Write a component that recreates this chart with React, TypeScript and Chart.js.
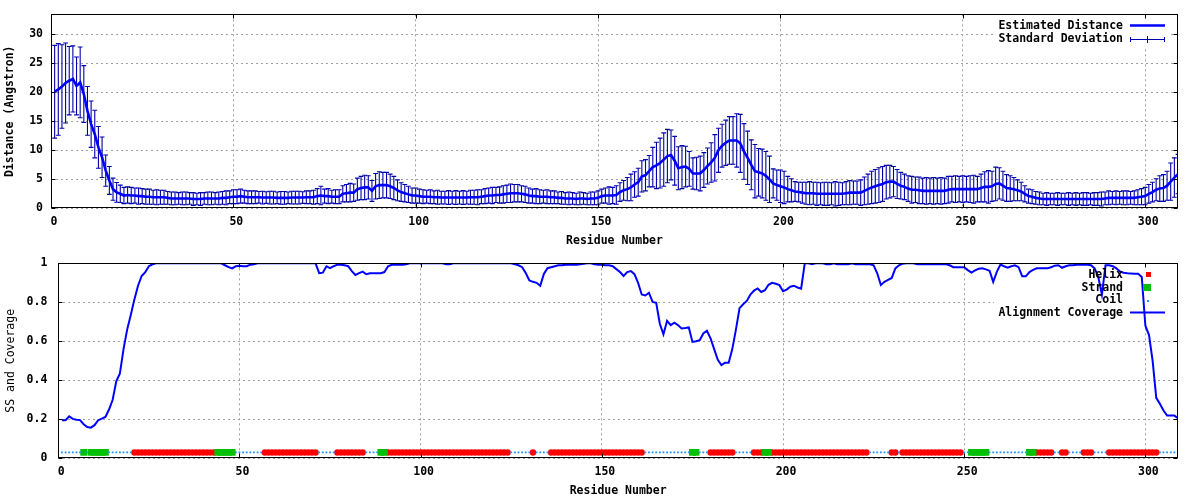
import { useEffect, useRef } from 'react';
import { Chart, registerables } from 'chart.js';

Chart.register(...registerables);

// ---------------- DATA ----------------
const RESIDUE_COUNT = 309;
const RESIDUES: number[] = Array.from({ length: RESIDUE_COUNT }, (_, i) => i + 1);

const X_TICKS = [0, 50, 100, 150, 200, 250, 300];
const TOP_Y_TICKS = [0, 5, 10, 15, 20, 25, 30];
const BOTTOM_Y_TICKS = [0, 0.2, 0.4, 0.6, 0.8, 1];
const BOTTOM_Y_LABELS = ['0', '0.2', '0.4', '0.6', '0.8', '1'];

const TOP_Y_MAX = 33.45;
const X_MAX = 309;

// Estimated distance (Angstrom) per residue
const MEAN: number[] = [
  20.1, 20.5, 21.0, 21.6, 22.0, 22.3, 21.1, 21.7, 19.7, 16.8,
  14.5, 12.8, 10.5, 8.8, 6.5, 4.8, 3.3, 2.75, 2.5, 2.2,
  2.3, 2.2, 2.2, 2.1, 2.1, 2.0, 2.0, 1.9, 1.9, 1.9,
  1.9, 1.8, 1.7, 1.7, 1.7, 1.7, 1.7, 1.7, 1.6, 1.6,
  1.6, 1.7, 1.7, 1.7, 1.7, 1.7, 1.8, 1.8, 1.9, 2.0,
  2.0, 2.1, 2.0, 1.9, 1.9, 1.9, 1.9, 1.85, 1.85, 1.85,
  1.85, 1.8, 1.8, 1.8, 1.8, 1.85, 1.85, 1.85, 1.85, 1.9,
  1.9, 1.9, 2.1, 2.2, 2.1, 2.1, 2.0, 2.0, 2.0, 2.5,
  2.6, 2.7, 2.7, 3.3, 3.5, 3.6, 3.6, 3.0, 3.8, 4.0,
  4.0, 4.0, 3.8, 3.5, 3.1, 2.8, 2.6, 2.4, 2.2, 2.2,
  2.1, 2.0, 2.0, 2.0, 1.9, 1.9, 1.85, 1.85, 1.85, 1.85,
  1.85, 1.85, 1.85, 1.85, 1.9, 1.9, 1.9, 2.0, 2.1, 2.2,
  2.2, 2.3, 2.3, 2.4, 2.5, 2.6, 2.6, 2.6, 2.5, 2.4,
  2.2, 2.1, 2.1, 2.0, 2.0, 2.0, 1.9, 1.9, 1.8, 1.8,
  1.7, 1.7, 1.7, 1.6, 1.7, 1.7, 1.6, 1.7, 1.7, 1.8,
  2.1, 2.2, 2.2, 2.2, 2.3, 2.8, 3.1, 3.3, 3.6, 4.1,
  4.5, 5.5, 5.7, 6.4, 7.1, 7.4, 7.8, 8.4, 9.0, 9.2,
  8.2, 6.9, 7.1, 7.2, 6.8, 6.0, 6.0, 6.0, 6.6, 7.3,
  7.9, 8.7, 10.0, 10.8, 11.3, 11.7, 11.7, 11.7, 11.2, 9.8,
  8.7, 7.5, 6.4, 6.2, 6.0, 5.6, 5.0, 4.3, 4.0, 3.8,
  3.6, 3.3, 3.1, 2.9, 2.8, 2.7, 2.6, 2.6, 2.6, 2.5,
  2.5, 2.5, 2.5, 2.5, 2.5, 2.5, 2.5, 2.6, 2.7, 2.7,
  2.7, 2.7, 3.0, 3.3, 3.6, 3.8, 4.0, 4.2, 4.5, 4.6,
  4.6, 4.2, 3.9, 3.7, 3.4, 3.2, 3.2, 3.1, 3.0, 3.0,
  3.0, 3.0, 3.0, 3.0, 3.0, 3.2, 3.3, 3.3, 3.3, 3.3,
  3.3, 3.3, 3.3, 3.3, 3.5, 3.7, 3.7, 3.8, 4.2, 4.3,
  3.9, 3.5, 3.4, 3.3, 3.1, 2.9, 2.5, 2.1, 2.0, 1.8,
  1.7, 1.6, 1.6, 1.6, 1.6, 1.6, 1.6, 1.6, 1.6, 1.6,
  1.6, 1.6, 1.6, 1.6, 1.6, 1.6, 1.6, 1.6, 1.7, 1.8,
  1.8, 1.8, 1.8, 1.8, 1.8, 1.8, 1.8, 1.9, 2.0, 2.1,
  2.5, 2.8, 3.2, 3.4, 3.5, 3.9, 4.6, 5.3, 5.9,
];

// Standard deviation per residue
const STD: number[] = [
  8.0, 7.9, 7.2, 6.9, 5.9, 5.7, 5.0, 6.1, 4.9, 4.2,
  4.0, 4.1, 3.6, 3.5, 2.7, 2.4, 1.9, 1.7, 1.5, 1.4,
  1.4, 1.4, 1.3, 1.4, 1.3, 1.3, 1.3, 1.2, 1.3, 1.2,
  1.2, 1.1, 1.1, 1.1, 1.0, 1.1, 1.1, 1.0, 1.1, 1.0,
  1.1, 1.0, 1.1, 1.1, 1.0, 1.1, 1.1, 1.2, 1.1, 1.2,
  1.2, 1.2, 1.1, 1.1, 1.1, 1.1, 1.0, 1.1, 1.0, 1.1,
  1.1, 1.0, 1.1, 1.1, 1.0, 1.1, 1.1, 1.1, 1.0, 1.1,
  1.1, 1.2, 1.3, 1.6, 1.2, 1.3, 1.1, 1.2, 1.2, 1.4,
  1.5, 1.6, 1.5, 1.9, 2.0, 2.1, 2.0, 1.8, 2.2, 2.3,
  2.2, 2.2, 2.1, 2.0, 1.8, 1.6, 1.5, 1.4, 1.3, 1.3,
  1.2, 1.2, 1.1, 1.2, 1.1, 1.2, 1.1, 1.1, 1.2, 1.1,
  1.2, 1.1, 1.2, 1.1, 1.2, 1.2, 1.3, 1.2, 1.3, 1.3,
  1.4, 1.3, 1.4, 1.5, 1.5, 1.6, 1.5, 1.5, 1.4, 1.4,
  1.3, 1.2, 1.3, 1.2, 1.1, 1.2, 1.1, 1.1, 1.0, 1.1,
  1.0, 1.1, 1.0, 1.0, 1.1, 1.0, 1.0, 1.1, 1.1, 1.2,
  1.2, 1.3, 1.5, 1.4, 1.6, 1.6, 1.7, 2.0, 2.3, 2.2,
  2.4, 2.7, 2.7, 2.7, 3.4, 4.0, 4.3, 4.6, 4.6, 4.3,
  4.2, 3.7, 3.7, 3.5, 3.0, 2.7, 2.8, 3.0, 3.0, 3.1,
  3.4, 4.0, 3.8, 3.7, 3.9, 4.1, 4.1, 4.6, 5.0, 4.8,
  4.6, 4.3, 4.6, 4.1, 4.2, 4.2, 4.0, 2.5, 2.6, 2.8,
  2.8, 2.2, 2.0, 1.7, 1.7, 1.8, 1.9, 2.0, 1.9, 2.0,
  1.9, 2.0, 2.0, 1.9, 2.1, 2.0, 1.9, 2.0, 2.1, 2.0,
  2.0, 2.2, 2.4, 2.6, 2.8, 2.9, 3.0, 3.0, 2.9, 2.8,
  2.6, 2.5, 2.3, 2.2, 2.2, 2.3, 2.2, 2.3, 2.2, 2.3,
  2.2, 2.3, 2.2, 2.3, 2.2, 2.3, 2.2, 2.3, 2.2, 2.3,
  2.2, 2.3, 2.4, 2.2, 2.4, 2.6, 2.8, 2.6, 2.9, 2.7,
  2.5, 2.3, 2.2, 2.0, 1.8, 1.6, 1.4, 1.2, 1.2, 1.1,
  1.1, 1.0, 1.1, 1.0, 1.0, 1.1, 1.0, 1.0, 1.1, 1.0,
  1.1, 1.0, 1.1, 1.1, 1.0, 1.1, 1.1, 1.2, 1.1, 1.2,
  1.1, 1.2, 1.1, 1.2, 1.2, 1.1, 1.2, 1.3, 1.4, 1.5,
  1.6, 1.7, 1.9, 2.2, 2.3, 2.5, 3.2, 3.4, 3.4,
];

// Alignment coverage per residue
const COVERAGE: number[] = [
  0.195, 0.195, 0.215, 0.202, 0.198, 0.196, 0.175, 0.160, 0.157, 0.170,
  0.195, 0.203, 0.212, 0.250, 0.300, 0.395, 0.435, 0.560, 0.660, 0.735,
  0.815, 0.885, 0.935, 0.955, 0.985, 0.995, 1, 1, 1, 1,
  1, 1, 1, 1, 1, 1, 1, 1, 1, 1,
  1, 1, 1, 1, 1, 0.99, 0.98, 0.974, 0.985, 0.988,
  0.985, 0.985, 0.993, 0.995, 1, 1, 1, 1, 1, 1,
  1, 1, 1, 1, 1, 1, 1, 1, 1, 1,
  1, 0.950, 0.952, 0.985, 0.975, 0.985, 0.993, 0.993, 0.990, 0.985,
  0.960, 0.940, 0.950, 0.957, 0.944, 0.949, 0.949, 0.949, 0.949, 0.955,
  0.985, 0.992, 0.993, 0.993, 0.993, 0.995, 1, 1, 1, 1,
  1, 1, 1, 1, 1, 1, 0.995, 0.995, 1, 1,
  1, 1, 1, 1, 1, 1, 1, 1, 1, 1,
  1, 1, 1, 1, 1, 0.995, 0.99, 0.98, 0.95, 0.912,
  0.905, 0.900, 0.885, 0.945, 0.975, 0.980, 0.985, 0.990, 0.990, 0.993,
  0.993, 0.993, 0.993, 0.995, 0.998, 1, 1, 0.995, 0.993, 0.993,
  0.99, 0.99, 0.985, 0.97, 0.955, 0.935, 0.955, 0.96, 0.944, 0.90,
  0.84, 0.835, 0.849, 0.802, 0.797, 0.69, 0.636, 0.705, 0.683, 0.695,
  0.683, 0.666, 0.668, 0.671, 0.597, 0.600, 0.606, 0.640, 0.654, 0.615,
  0.560, 0.505, 0.478, 0.490, 0.490, 0.560, 0.660, 0.770, 0.790, 0.807,
  0.840, 0.860, 0.871, 0.853, 0.862, 0.890, 0.900, 0.895, 0.888, 0.857,
  0.865, 0.880, 0.885, 0.876, 0.870, 1, 1, 0.995, 1, 1,
  1, 0.995, 0.995, 1, 0.995, 0.995, 0.995, 0.995, 1, 0.995,
  0.995, 0.995, 0.995, 0.995, 0.990, 0.949, 0.889, 0.905, 0.915, 0.925,
  0.974, 0.990, 0.998, 1, 1, 1, 0.995, 0.995, 0.995, 0.995,
  0.995, 0.995, 0.995, 0.995, 0.995, 0.99, 0.98, 0.98, 0.98, 0.98,
  0.965, 0.952, 0.964, 0.972, 0.974, 0.969, 0.962, 0.905, 0.956, 0.993,
  0.985, 0.978, 0.985, 0.990, 0.980, 0.933, 0.933, 0.955, 0.966, 0.974,
  0.974, 0.974, 0.975, 0.980, 0.988, 0.990, 0.977, 0.985, 0.990, 0.990,
  0.993, 0.993, 0.993, 0.993, 0.990, 0.974, 0.930, 0.840, 0.990, 0.990,
  0.985, 0.974, 0.958, 0.952, 0.949, 0.948, 0.946, 0.946, 0.930, 0.680,
  0.632, 0.500, 0.310, 0.280, 0.245, 0.219, 0.219, 0.219, 0.205,
];

// Secondary structure segments: [first residue, last residue, type]
const SS_SEGMENTS: [number, number, 'H' | 'E' | 'C'][] = [
  [1, 6, 'C'], [7, 7, 'E'], [8, 8, 'C'], [9, 13, 'E'], [14, 20, 'C'],
  [21, 43, 'H'], [44, 48, 'E'], [49, 56, 'C'], [57, 71, 'H'], [72, 76, 'C'],
  [77, 84, 'H'], [85, 88, 'C'], [89, 90, 'E'], [91, 124, 'H'], [125, 130, 'C'],
  [131, 131, 'H'], [132, 135, 'C'], [136, 161, 'H'], [162, 174, 'C'], [175, 176, 'E'],
  [177, 179, 'C'], [180, 186, 'H'], [187, 191, 'C'], [192, 194, 'H'], [195, 196, 'E'],
  [197, 223, 'H'], [224, 229, 'C'], [230, 231, 'H'], [232, 232, 'C'], [233, 249, 'H'],
  [250, 251, 'C'], [252, 256, 'E'], [257, 267, 'C'], [268, 269, 'E'], [270, 274, 'H'],
  [275, 276, 'C'], [277, 278, 'H'], [279, 282, 'C'], [283, 285, 'H'], [286, 289, 'C'],
  [290, 303, 'H'], [304, 309, 'C'],
];
const SS_LEVEL = 0.03;

// ---------------- STYLE ----------------
const FONT_FAMILY = '"DejaVu Sans Mono", "Liberation Mono", monospace';
const boldFont = { family: FONT_FAMILY, size: 11.5, weight: 'bold' as const, lineHeight: 1.2 };
const normalFont = { family: FONT_FAMILY, size: 11.5, weight: 'normal' as const, lineHeight: 1.2 };
const GRID_COLOR = '#a0a0a0';
const GRID_DASH = [2, 3];
const BLUE = '#0000ff';
const DARK_BLUE = '#0000a8';
const RED = '#ff0000';
const GREEN = '#00c000';
const COIL_BLUE = '#1e90ff';

type KeyBox = { x: number; y: number; w: number; h: number };

function framePlugin(yTicks: number[], keyBox: KeyBox, drawKey: (chart: any) => void) {
  return {
    id: 'gnuFrame',
    beforeDatasetsDraw(chart: any) {
      const ctx = chart.ctx;
      ctx.save();
      ctx.fillStyle = '#ffffff';
      ctx.fillRect(keyBox.x, keyBox.y, keyBox.w, keyBox.h);
      ctx.restore();
    },
    afterDatasetsDraw(chart: any) {
      const { ctx, chartArea: a, scales } = chart;
      ctx.save();
      ctx.strokeStyle = '#000000';
      ctx.lineWidth = 1;
      const l = Math.round(a.left) + 0.5;
      const r = Math.round(a.right) - 0.5;
      const t = Math.round(a.top) + 0.5;
      const b = Math.round(a.bottom) - 0.5;
      ctx.strokeRect(l, t, r - l, b - t);
      ctx.beginPath();
      const tl = 4;
      X_TICKS.forEach((v) => {
        const px = Math.round(scales.x.getPixelForValue(v)) + 0.5;
        ctx.moveTo(px, b); ctx.lineTo(px, b - tl);
        ctx.moveTo(px, t); ctx.lineTo(px, t + tl);
      });
      yTicks.forEach((v) => {
        const py = Math.round(scales.y.getPixelForValue(v)) + 0.5;
        ctx.moveTo(l, py); ctx.lineTo(l + tl, py);
        ctx.moveTo(r, py); ctx.lineTo(r - tl, py);
      });
      ctx.stroke();
      ctx.restore();
    },
    afterDraw(chart: any) {
      drawKey(chart);
    },
  };
}

function xScale(): any {
  return {
    type: 'linear',
    min: 0,
    max: X_MAX,
    afterBuildTicks: (s: any) => { s.ticks = X_TICKS.map((v) => ({ value: v })); },
    afterFit: (s: any) => { s.height = 41.7; s.paddingLeft = 0; s.paddingRight = 0; },
    ticks: { autoSkip: false, maxRotation: 0, padding: 7, labelOffset: 3, color: '#000', font: boldFont, callback: (v: any) => String(v) },
    grid: { color: GRID_COLOR, lineWidth: 1, drawTicks: false },
    border: { display: false, dash: GRID_DASH },
    title: { display: true, text: 'Residue Number', color: '#000', font: boldFont, padding: { top: 0, bottom: 2 } },
  };
}

function makeTop(canvas: HTMLCanvasElement) {
  const lineData = RESIDUES.map((r, i) => ({ x: r, y: MEAN[i] }));
  const errData: { x: number; y: number | null }[] = [];
  RESIDUES.forEach((r, i) => {
    errData.push({ x: r, y: MEAN[i] - STD[i] }, { x: r, y: MEAN[i] + STD[i] }, { x: r, y: null });
  });

  const drawKey = (chart: any) => {
    const ctx = chart.ctx;
    const ds = chart.data.datasets;
    ctx.save();
    ctx.font = `bold 11.5px ${FONT_FAMILY}`;
    ctx.fillStyle = '#000';
    ctx.textAlign = 'right';
    ctx.textBaseline = 'middle';
    ctx.fillText(ds[0].label, 1123, 26);
    ctx.fillText(ds[1].label, 1123, 39);
    ctx.strokeStyle = BLUE;
    ctx.lineWidth = 2.5;
    ctx.beginPath(); ctx.moveTo(1130, 25.5); ctx.lineTo(1165, 25.5); ctx.stroke();
    ctx.strokeStyle = DARK_BLUE;
    ctx.lineWidth = 1;
    ctx.beginPath();
    ctx.moveTo(1130, 39.5); ctx.lineTo(1165, 39.5);
    ctx.moveTo(1130.5, 37); ctx.lineTo(1130.5, 42);
    ctx.moveTo(1164.5, 37); ctx.lineTo(1164.5, 42);
    ctx.moveTo(1147.5, 36); ctx.lineTo(1147.5, 43);
    ctx.stroke();
    ctx.restore();
  };

  return new Chart(canvas, {
    type: 'line',
    data: {
      datasets: [
        { label: 'Estimated Distance', data: lineData, borderColor: BLUE, backgroundColor: BLUE, borderWidth: 2.6, pointRadius: 0, tension: 0 },
        {
          label: 'Standard Deviation', data: errData as any, borderColor: DARK_BLUE, backgroundColor: DARK_BLUE, borderWidth: 1.1,
          spanGaps: false, pointStyle: 'line', pointRadius: 2.4, pointBorderColor: DARK_BLUE, pointBorderWidth: 1.1, tension: 0,
        },
      ],
    },
    options: {
      responsive: false,
      animation: false,
      events: [],
      layout: { padding: { top: 14.3, right: 22, left: 0, bottom: 0 } },
      plugins: { legend: { display: false }, tooltip: { enabled: false } },
      scales: {
        x: xScale(),
        y: {
          type: 'linear',
          min: 0,
          max: TOP_Y_MAX,
          afterBuildTicks: (s: any) => { s.ticks = TOP_Y_TICKS.map((v) => ({ value: v })); },
          afterFit: (s: any) => { s.width = 51; s.paddingTop = 0; s.paddingBottom = 0; },
          ticks: { autoSkip: false, padding: 8, color: '#000', font: boldFont, callback: (v: any) => String(v) },
          grid: { color: GRID_COLOR, lineWidth: 1, drawTicks: false },
          border: { display: false, dash: GRID_DASH },
          title: { display: true, text: 'Distance (Angstron)', color: '#000', font: boldFont, padding: { top: 3.6, bottom: 0 } },
        },
      },
    } as any,
    plugins: [framePlugin(TOP_Y_TICKS, { x: 994, y: 17, w: 176, h: 29 }, drawKey)],
  });
}

function makeBottom(canvas: HTMLCanvasElement) {
  const covData = RESIDUES.map((r, i) => ({ x: r, y: COVERAGE[i] }));
  const helix: { x: number; y: number }[] = [];
  const strand: { x: number; y: number }[] = [];
  const coil: { x: number; y: number }[] = [];
  SS_SEGMENTS.forEach(([a, b, t]) => {
    for (let r = a; r <= b; r++) {
      const p = { x: r, y: SS_LEVEL };
      if (t === 'H') helix.push(p);
      else if (t === 'E') strand.push(p);
      else coil.push(p);
    }
  });

  const drawKey = (chart: any) => {
    const ctx = chart.ctx;
    const ds = chart.data.datasets;
    ctx.save();
    ctx.font = `bold 11.5px ${FONT_FAMILY}`;
    ctx.fillStyle = '#000';
    ctx.textAlign = 'right';
    ctx.textBaseline = 'middle';
    ctx.fillText(ds[3].label, 1123, 25);
    ctx.fillText(ds[2].label, 1123, 37.7);
    ctx.fillText(ds[1].label, 1123, 50.5);
    ctx.fillText(ds[0].label, 1123, 63);
    ctx.fillStyle = RED;
    ctx.fillRect(1146, 22, 5, 5);
    ctx.fillStyle = GREEN;
    ctx.fillRect(1143, 34, 8, 7);
    ctx.fillStyle = COIL_BLUE;
    ctx.fillRect(1147, 50, 2, 2);
    ctx.strokeStyle = BLUE;
    ctx.lineWidth = 2;
    ctx.beginPath(); ctx.moveTo(1130, 62.5); ctx.lineTo(1165, 62.5); ctx.stroke();
    ctx.restore();
  };

  return new Chart(canvas, {
    type: 'line',
    data: {
      datasets: [
        { label: 'Alignment Coverage', data: covData, borderColor: BLUE, backgroundColor: BLUE, borderWidth: 2, pointRadius: 0, tension: 0 },
        { label: 'Coil', data: coil, showLine: false, pointStyle: 'rect', pointRadius: 1.3, backgroundColor: COIL_BLUE, borderColor: COIL_BLUE, pointBorderWidth: 0 },
        { label: 'Strand', data: strand, showLine: false, pointStyle: 'rect', pointRadius: 4.8, backgroundColor: GREEN, borderColor: GREEN, pointBorderWidth: 0 },
        { label: 'Helix', data: helix, showLine: false, pointStyle: 'circle', pointRadius: 3.2, backgroundColor: RED, borderColor: RED, pointBorderWidth: 0 },
      ],
    },
    options: {
      responsive: false,
      animation: false,
      events: [],
      layout: { padding: { top: 13.3, right: 22, left: 0, bottom: 0 } },
      plugins: { legend: { display: false }, tooltip: { enabled: false } },
      scales: {
        x: xScale(),
        y: {
          type: 'linear',
          min: 0,
          max: 1,
          afterBuildTicks: (s: any) => { s.ticks = BOTTOM_Y_TICKS.map((v) => ({ value: v })); },
          afterFit: (s: any) => { s.width = 58.3; s.paddingTop = 0; s.paddingBottom = 0; },
          ticks: { autoSkip: false, padding: 11, color: '#000', font: boldFont, callback: (_v: any, i: number) => BOTTOM_Y_LABELS[i] },
          grid: { color: GRID_COLOR, lineWidth: 1, drawTicks: false },
          border: { display: false, dash: GRID_DASH },
          title: { display: true, text: 'SS and Coverage', color: '#000', font: normalFont, padding: { top: 3.9, bottom: 0 } },
        },
      },
    } as any,
    plugins: [framePlugin(BOTTOM_Y_TICKS, { x: 994, y: 16, w: 176, h: 54 }, drawKey)],
  });
}

export default function App() {
  const topRef = useRef<HTMLCanvasElement>(null);
  const botRef = useRef<HTMLCanvasElement>(null);

  useEffect(() => {
    const charts: Chart[] = [];
    if (topRef.current) charts.push(makeTop(topRef.current));
    if (botRef.current) charts.push(makeBottom(botRef.current));
    return () => charts.forEach((c) => c.destroy());
  }, []);

  return (
    <div style={{ position: 'fixed', left: 0, top: 0, width: 1200, height: 500, background: '#ffffff' }}>
      <canvas ref={topRef} width={1200} height={250} style={{ position: 'absolute', left: 0, top: 0, width: 1200, height: 250 }} />
      <canvas ref={botRef} width={1200} height={250} style={{ position: 'absolute', left: 0, top: 250, width: 1200, height: 250 }} />
    </div>
  );
}
